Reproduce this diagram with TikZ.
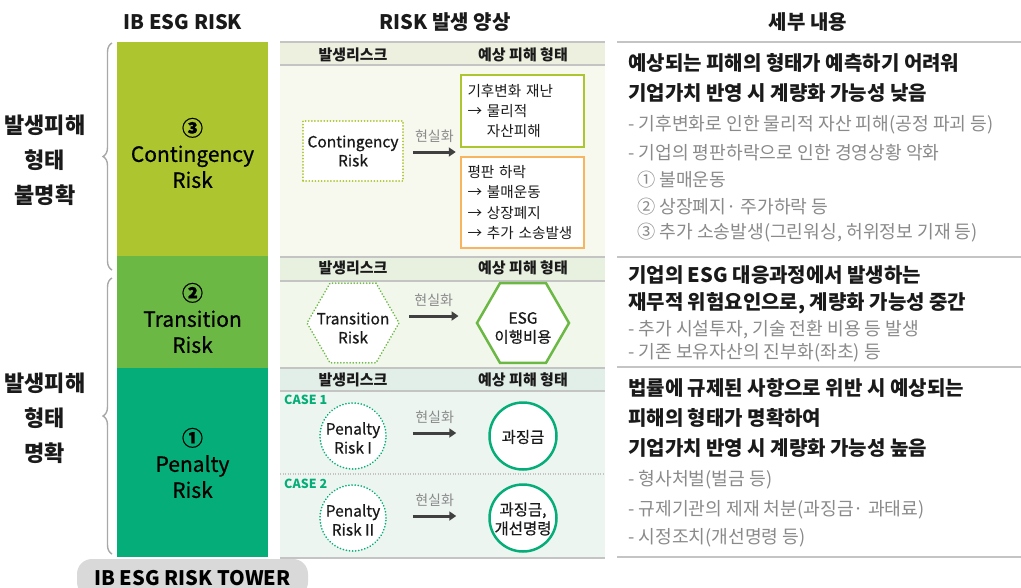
\documentclass[tikz,border=0pt]{standalone}
\usepackage{fontspec}
\setmainfont{Noto Sans CJK KR}
\newfontfamily\medf{Noto Sans CJK KR}[FakeBold=0.6]
\usetikzlibrary{shapes.geometric,decorations.pathreplacing,arrows.meta,calc}
\definecolor{cyel}{HTML}{ADC52E}
\definecolor{ctra}{HTML}{6CB844}
\definecolor{cpen}{HTML}{05AE78}
\definecolor{corg}{HTML}{F8B45E}
\definecolor{bgA}{HTML}{F7F8EE}
\definecolor{hdA}{HTML}{EEF0DF}
\definecolor{bgB}{HTML}{F2F7EC}
\definecolor{hdB}{HTML}{E8F0E0}
\definecolor{bgC}{HTML}{ECF5F0}
\definecolor{hdC}{HTML}{E2EEE8}
\definecolor{rulec}{HTML}{C4C4C4}
\definecolor{gtxt}{HTML}{8A8A8A}
\definecolor{arrc}{HTML}{404040}
\definecolor{txtc}{HTML}{1A1A1A}
\definecolor{pill}{HTML}{D9D9D9}
\definecolor{bracec}{HTML}{A8A8A8}
\tikzset{
  hdr/.style={font=\bfseries\fontsize{20}{22}\selectfont, text=txtc, inner sep=0},
  bartext/.style={font=\medf\fontsize{21}{26}\selectfont, text=black, align=center, inner sep=0},
  sidelbl/.style={font=\bfseries\fontsize{22}{35}\selectfont, text=txtc, align=center, inner sep=0},
  colhdr/.style={font=\bfseries\fontsize{15}{17}\selectfont, text=txtc, inner sep=0},
  dotline/.style={line width=1.8pt, dash pattern=on 0.1pt off 3pt, line cap=round},
  inbox/.style={font=\medf\fontsize{15.5}{19}\selectfont, text=txtc, align=center},
  intext/.style={font=\medf\fontsize{15.5}{19}\selectfont, text=txtc, align=center, inner sep=0},
  resbox/.style={font=\fontsize{14.6}{20.3}\selectfont, text=txtc, align=left, text width=110pt, inner xsep=6.5pt, fill=white, line width=2.5pt},
  arr/.style={line width=3pt, draw=arrc, -{Triangle[length=7pt,width=9pt]}},
  lbl/.style={font=\fontsize{14}{16}\selectfont, text=gtxt, inner sep=0},
  casel/.style={font=\bfseries\fontsize{12.5}{14}\selectfont, text=cpen, inner sep=0, anchor=west},
  rbold/.style={font=\bfseries\fontsize{20}{22}\selectfont, text=txtc, inner sep=0, anchor=west},
  rgray/.style={font=\fontsize{18.2}{20}\selectfont, text=gtxt, inner sep=0, anchor=west},
  rulel/.style={draw=rulec, line width=1.8pt},
  bracel/.style={draw=bracec, line width=1.4pt, decorate, decoration={brace, amplitude=9pt}},
  dotcirc/.style={circle, minimum size=66pt, inner sep=0, draw=cpen, dotline, fill=white},
  rescirc/.style={circle, minimum size=67pt, inner sep=0, draw=cpen, line width=2.5pt, fill=white},
}
\begin{document}
\begin{tikzpicture}[x=1pt,y=-1pt]
\useasboundingbox[fill=white] (0,0) rectangle (1021,587);

% headers
\node[hdr] (h1) at (183,22) {IB ESG RISK};
\node[hdr] (h2) at (445,22) {RISK 발생 양상};
\node[hdr] (h3) at (808,22) {세부 내용};

% left bars
\node[fill=cyel, minimum width=151pt, minimum height=214pt, inner sep=0] (b3) at (192.5,149) {};
\node[fill=ctra, minimum width=151pt, minimum height=112pt, inner sep=0] (b2) at (192.5,312) {};
\node[fill=cpen, minimum width=151pt, minimum height=189pt, inner sep=0] (b1) at (192.5,462.5) {};
\node[bartext] (t3) at (192.5,153) {{\bfseries ③}\\Contingency\\Risk};
\node[bartext] (t2) at (192.5,318) {{\bfseries ②}\\Transition\\Risk};
\node[bartext] (t1) at (192.5,463) {{\bfseries ①}\\Penalty\\Risk};

% side labels and braces
\node[sidelbl] (s1) at (45,160) {발생피해\\형태\\불명확};
\node[sidelbl] (s2) at (45,418) {발생피해\\형태\\명확};
\draw[bracel] (112,270) -- (112,43);
\draw[bracel] (112,554) -- (112,278);

% tower pill
\node[fill=pill, rounded corners=15pt, minimum width=231pt, minimum height=38pt, font=\bfseries\fontsize{20}{22}\selectfont, text=black] (tower) at (192.5,578) {IB ESG RISK TOWER};

% middle panel backgrounds
\fill[bgA] (280,42) rectangle (605,257);
\fill[hdA] (280,42) rectangle (605,65);
\fill[bgB] (280,257) rectangle (605,368);
\fill[hdB] (280,257) rectangle (605,281);
\fill[bgC] (280,368) rectangle (605,558);
\fill[hdC] (280,368) rectangle (605,391);
\draw[rulel] (280,42) -- (605,42);
\draw[rulel] (280,65) -- (605,65);
\draw[rulel] (280,257) -- (605,257);
\draw[rulel] (280,281) -- (605,281);
\draw[rulel] (280,368) -- (605,368);
\draw[rulel] (280,391) -- (605,391);
\draw[rulel] (280,558) -- (605,558);
\draw[draw=rulec, line width=1.2pt, dash pattern=on 1pt off 1.5pt] (280,474) -- (605,474);

% column headers
\node[colhdr] (ca1) at (353,55) {발생리스크};
\node[colhdr] (cb1) at (523,55) {예상 피해 형태};
\node[colhdr] (ca2) at (353,268) {발생리스크};
\node[colhdr] (cb2) at (523,268) {예상 피해 형태};
\node[colhdr] (ca3) at (353,380) {발생리스크};
\node[colhdr] (cb3) at (523,380) {예상 피해 형태};

% contingency row
\node[inbox, draw=cyel, dotline, fill=white, minimum width=100pt, minimum height=60pt] (crisk) at (353,151) {Contingency\\Risk};
\node[resbox, draw=cyel, minimum height=72pt] (cgreen) at (522.5,111) {기후변화 재난\\→ 물리적\\\phantom{→ }자산피해};
\node[resbox, draw=corg, minimum height=91pt] (corange) at (522.5,202.5) {평판 하락\\→ 불매운동\\→ 상장폐지\\→ 추가 소송발생};
\coordinate (cgap) at ($(cgreen.south west)!0.5!(corange.north west)$);
\draw[arr] ([xshift=9pt]crisk.east |- cgap) -- node[lbl, above=8pt] (cl) {현실화} ([xshift=-4pt]cgap);

% transition row
\node[regular polygon, regular polygon sides=6, minimum size=92pt, inner sep=0, draw=ctra, dotline, fill=white] (trisk) at (353,323) {};
\node[intext] (trt) at (353,328) {Transition\\Risk};
\node[regular polygon, regular polygon sides=6, minimum size=92pt, inner sep=0, draw=ctra, line width=2.5pt, fill=white] (tesg) at (523,323) {};
\node[intext] (tet) at (523,328) {ESG\\이행비용};
\draw[arr] ([xshift=9pt,yshift=7pt]trisk.east) -- node[lbl, above=8pt] (tl) {현실화} ([xshift=-17pt,yshift=7pt]tesg.west);

% penalty rows
\node[casel] (case1) at (284,400) {CASE 1};
\node[casel] (case2) at (284,484) {CASE 2};
\node[dotcirc] (p1) at (353,436) {};
\node[intext] (p1t) at (353,438) {Penalty\\Risk I};
\node[rescirc] (r1) at (523,436) {};
\node[intext] (r1t) at (523,437) {과징금};
\draw[arr] ([xshift=26pt,yshift=3pt]p1.east) -- node[lbl, above=8pt] (pl1) {현실화} ([xshift=-32pt,yshift=3pt]r1.west);
\node[dotcirc] (p2) at (353,518) {};
\node[intext] (p2t) at (353,520) {Penalty\\Risk II};
\node[rescirc] (r2) at (523,518) {};
\node[intext] (r2t) at (523,519) {과징금,\\개선명령};
\draw[arr] ([xshift=26pt,yshift=2pt]p2.east) -- node[lbl, above=8pt] (pl2) {현실화} ([xshift=-32pt,yshift=2pt]r2.west);

% right panel rules
\draw[rulel] (617,42) -- (1021,42);
\draw[rulel] (617,257) -- (1021,257);
\draw[rulel] (617,367) -- (1021,367);
\draw[rulel] (617,557) -- (1021,557);

% right panel texts
\node[rbold] (ra1) at (628,63) {예상되는 피해의 형태가 예측하기 어려워};
\node[rbold] (ra2) at (628,93) {기업가치 반영 시 계량화 가능성 낮음};
\node[rgray] (ra3) at (628,125) {- 기후변화로 인한 물리적 자산 피해(공정 파괴 등)};
\node[rgray] (ra4) at (628,153) {- 기업의 평판하락으로 인한 경영상황 악화};
\node[rgray] (ra5) at (637,180) {① 불매운동};
\node[rgray] (ra6) at (637,207) {② 상장폐지· 주가하락 등};
\node[rgray] (ra7) at (637,233) {③ 추가 소송발생(그린워싱, 허위정보 기재 등)};

\node[rbold] (rb1) at (628,275) {기업의 ESG 대응과정에서 발생하는};
\node[rbold] (rb2) at (628,303) {재무적 위험요인으로, 계량화 가능성 중간};
\node[rgray] (rb3) at (628,330) {- 추가 시설투자, 기술 전환 비용 등 발생};
\node[rgray] (rb4) at (628,353) {- 기존 보유자산의 진부화(좌초) 등};

\node[rbold] (rc1) at (628,388) {법률에 규제된 사항으로 위반 시 예상되는};
\node[rbold] (rc2) at (628,418) {피해의 형태가 명확하여};
\node[rbold] (rc3) at (628,448) {기업가치 반영 시 계량화 가능성 높음};
\node[rgray] (rc4) at (628,480) {- 형사처벌(벌금 등)};
\node[rgray] (rc5) at (628,510) {- 규제기관의 제재 처분(과징금· 과태료)};
\node[rgray] (rc6) at (628,538) {- 시정조치(개선명령 등)};
\end{tikzpicture}
\end{document}
